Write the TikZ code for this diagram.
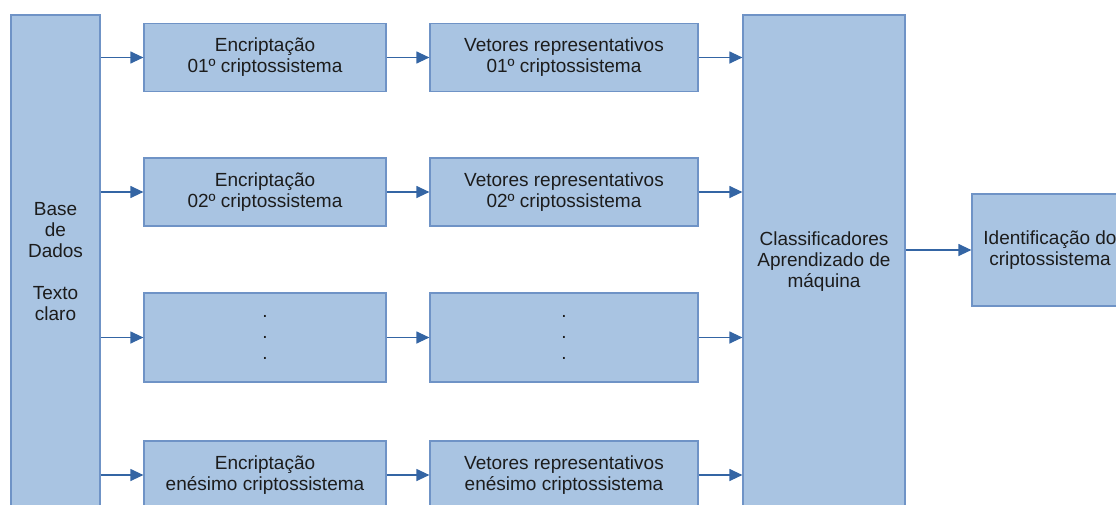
\documentclass[tikz,border=0pt]{standalone}
\usepackage{fontspec}
\setmainfont{Liberation Sans}
\usetikzlibrary{arrows.meta}
\definecolor{caixa}{HTML}{A9C4E2}
\definecolor{borda}{HTML}{6F93C6}
\definecolor{azulseta}{HTML}{3465A4}
\definecolor{texto}{HTML}{1C1C1C}

\begin{document}
\begin{tikzpicture}[x=1pt,y=-1pt,
		bloco/.style={draw=borda,fill=caixa,line width=1.2pt,text=texto,align=center,inner sep=0pt,font=\fontsize{19}{21}\selectfont},
		enc/.style={bloco,minimum width=242pt,minimum height=68pt},
		vet/.style={bloco,minimum width=268pt,minimum height=68pt},
		seta/.style={draw=azulseta,line width=1.2pt,-{Triangle[length=13pt,width=12pt]}}]
					\useasboundingbox (0,0) rectangle (1116,504);
					\node[bloco,minimum width=89pt,minimum height=494pt](base) at (55.5,262){Base\\de\\Dados\\[21pt]Texto\\claro};
					\node[enc](enc1) at (265,57.5){Encripta\c{c}\~ao\\01\textordmasculine{} criptossistema};
					\node[enc](enc2) at (265,192){Encripta\c{c}\~ao\\02\textordmasculine{} criptossistema};
					\node[enc,minimum height=89pt](enc3) at (265,337.5){.\\.\\.};
					\node[enc](enc4) at (265,475){Encripta\c{c}\~ao\\en\'esimo criptossistema};
					\node[vet](vet1) at (564,57.5){Vetores representativos\\01\textordmasculine{} criptossistema};
					\node[vet](vet2) at (564,192){Vetores representativos\\02\textordmasculine{} criptossistema};
					\node[vet,minimum height=89pt](vet3) at (564,337.5){.\\.\\.};
					\node[vet](vet4) at (564,475){Vetores representativos\\en\'esimo criptossistema};
					\node[bloco,minimum width=162pt,minimum height=494pt](clf) at (824,262){Classificadores\\Aprendizado de\\m\'aquina};
					\node[bloco,minimum width=156pt,minimum height=112pt](ident) at (1050,250){Identifica\c{c}\~ao do\\criptossistema};
					\path[every edge/.style=seta]
						(base.east |- enc1) edge (enc1)
						(base.east |- enc2) edge (enc2)
						(base.east |- enc3) edge (enc3)
						(base.east |- enc4) edge (enc4)
						(enc1) edge (vet1)
						(enc2) edge (vet2)
						(enc3) edge (vet3)
						(enc4) edge (vet4)
						(vet1) edge (vet1 -| clf.west)
						(vet2) edge (vet2 -| clf.west)
						(vet3) edge (vet3 -| clf.west)
						(vet4) edge (vet4 -| clf.west)
						(clf.east |- ident) edge (ident);
				\end{tikzpicture}
\end{document}
